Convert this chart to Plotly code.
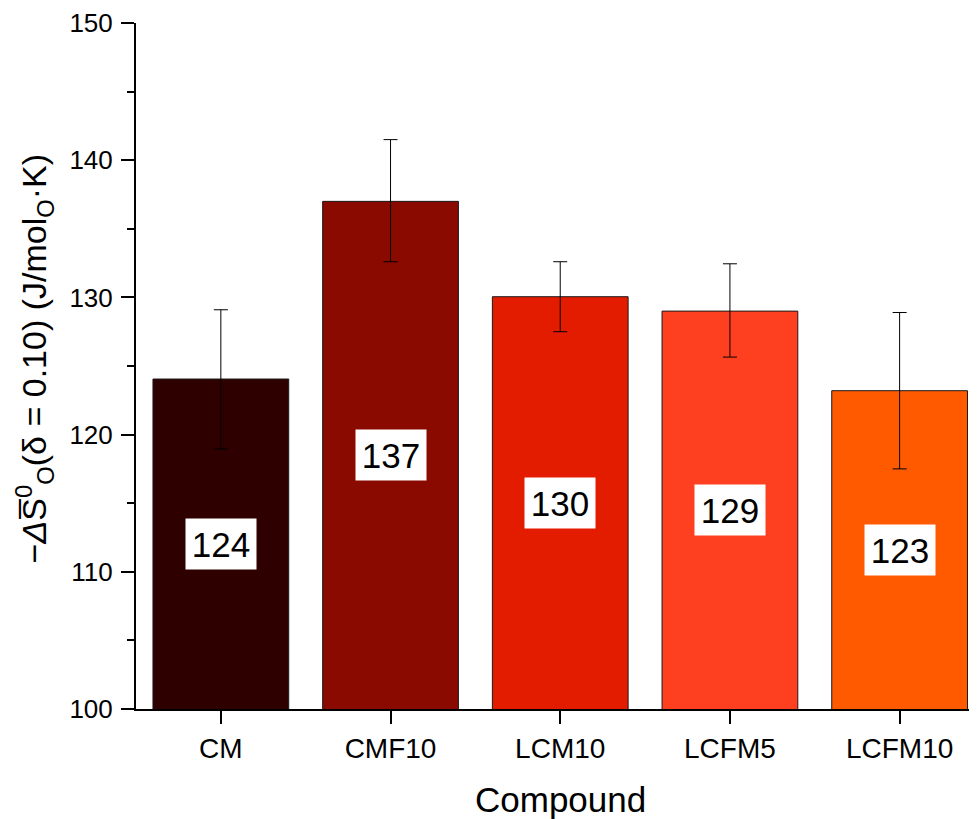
import plotly.graph_objects as go

compounds = ["CM", "CMF10", "LCM10", "LCFM5", "LCFM10"]
values = [124.05, 137.0, 130.05, 129.0, 123.2]
err_plus = [5.05, 4.5, 2.55, 3.45, 5.7]
err_minus = [5.1, 4.4, 2.55, 3.35, 5.7]
colors = ["#2E0000", "#8A0A00", "#E31C00", "#FF4020", "#FF5A00"]
labels = [str(round(v)) for v in values]

FONT = "Arial, Liberation Sans, sans-serif"

fig = go.Figure()
fig.add_trace(go.Bar(
    x=compounds, y=values, width=0.8,
    marker=dict(color=colors, line=dict(color="#1a1a1a", width=1)),
    error_y=dict(type="data", symmetric=False, array=err_plus, arrayminus=err_minus,
                 color="black", thickness=1, width=7),
    showlegend=False,
))

for c, v, t in zip(compounds, values, labels):
    fig.add_annotation(x=c, y=(100 + v) / 2, xref="x", yref="y", text=t,
                       showarrow=False, bgcolor="white", width=70, height=50,
                       borderpad=0, font=dict(family=FONT, size=35, color="black"))

fig.add_annotation(
    xref="paper", yref="paper", x=-0.121, y=0.51, xanchor="center", yanchor="middle",
    textangle=-90, showarrow=False,
    text="−<i>Δ</i>S̅<sup>0</sup><sub>O</sub>(δ = 0.10) (J/mol<sub>O</sub>·K)",
    font=dict(family=FONT, size=34, color="black"))

fig.add_annotation(
    xref="paper", yref="paper", x=0.505, y=-0.132, xanchor="center", yanchor="middle",
    showarrow=False, text="Compound",
    font=dict(family=FONT, size=35, color="black"))

fig.update_layout(
    width=977, height=819,
    margin=dict(l=128, r=8, t=15, b=118, autoexpand=False),
    plot_bgcolor="white", paper_bgcolor="white",
    font=dict(family=FONT, color="black"),
)
fig.update_xaxes(
    automargin=False,
    range=[-0.5, 4.456], showline=True, linecolor="black", linewidth=2,
    ticks="outside", ticklen=13, tickwidth=2, tickcolor="black",
    tickfont=dict(family=FONT, size=28, color="black"),
    minor=dict(ticks="outside", ticklen=7, tickwidth=2, tickcolor="black"),
    showgrid=False, zeroline=False,
)
fig.update_yaxes(
    automargin=False,
    range=[100, 150], dtick=10, showline=True, linecolor="black", linewidth=2,
    ticks="outside", ticklen=13, tickwidth=2, tickcolor="black",
    ticklabelstandoff=3,
    tickfont=dict(family=FONT, size=26, color="black"),
    minor=dict(ticks="outside", ticklen=7, tickwidth=2, tickcolor="black", dtick=5),
    showgrid=False, zeroline=False,
)

fig.write_html("out.html")
